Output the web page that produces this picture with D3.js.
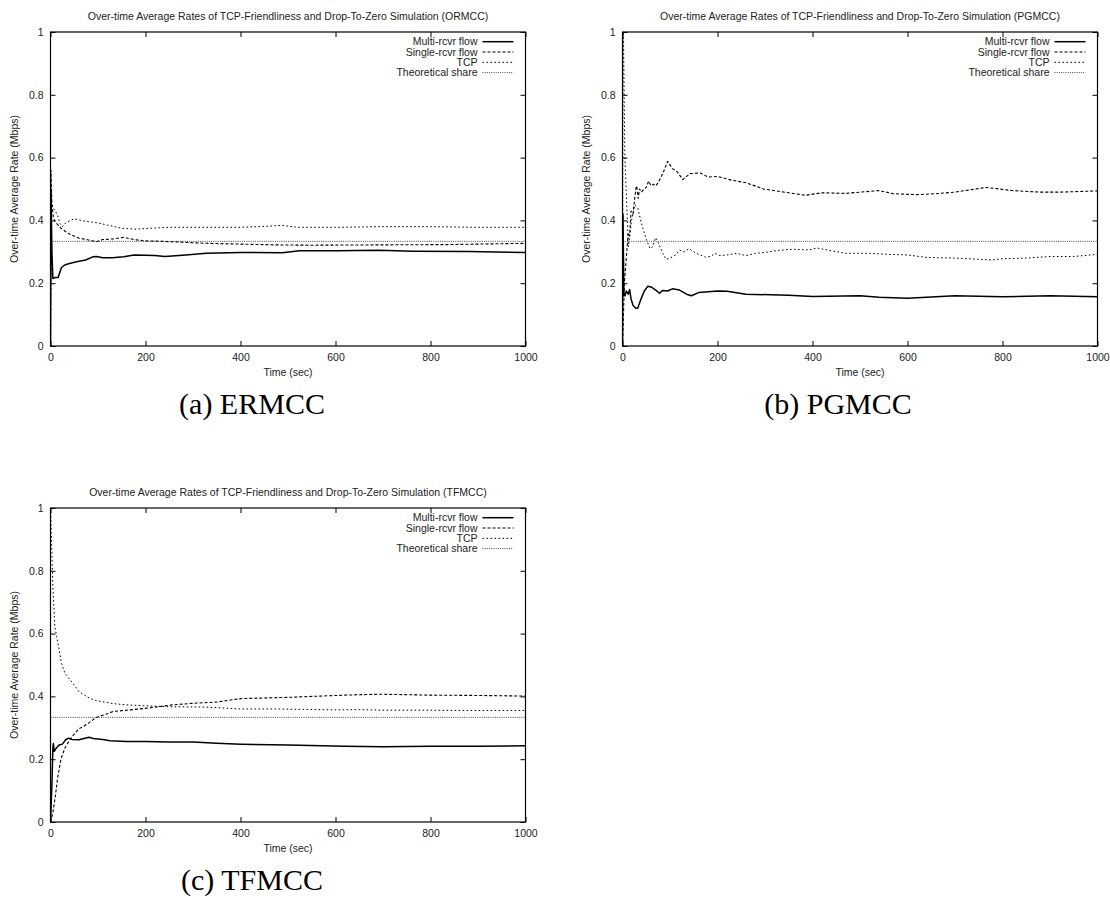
<!DOCTYPE html>
<html>
<head>
<meta charset="utf-8">
<script src="https://cdn.jsdelivr.net/npm/d3@7"></script>
<style>
  html, body { margin: 0; padding: 0; background: #fff; }
  svg { display: block; }
  .lbl { font-family: "Liberation Sans", Arial, sans-serif; font-size: 10.5px; fill: #222; }
  .cap { font-family: "Liberation Serif", "DejaVu Serif", serif; font-size: 30px; fill: #000; }
</style>
</head>
<body>
<svg id="fig" width="1110" height="900"></svg>
<script>
// ---- Axis settings ----
const timeTicks = [0, 200, 400, 600, 800, 1000];
const rateTicks = [0, 0.2, 0.4, 0.6, 0.8, 1];
const legendLabels = ["Multi-rcvr flow", "Single-rcvr flow", "TCP", "Theoretical share"];
const theoreticalShare = 1 / 3;

// ---- ERMCC (plot titled ORMCC) : [time (s), rate (Mbps)] ----
const ermccMulti = [[0,0],[1,0.5],[3,0.3],[5,0.215],[10,0.218],[16,0.218],[23,0.25],[30,0.258],[38,0.262],[55,0.268],[74,0.274],[89,0.284],[97,0.285],[110,0.281],[130,0.281],[154,0.284],[176,0.29],[200,0.289],[219,0.288],[241,0.285],[285,0.29],[328,0.295],[400,0.298],[488,0.297],[524,0.303],[604,0.303],[690,0.305],[764,0.302],[880,0.301],[1000,0.298]];
const ermccSingle = [[0,0],[1,0.56],[3,0.45],[6,0.41],[10,0.395],[23,0.374],[38,0.358],[60,0.343],[74,0.34],[96,0.332],[110,0.339],[132,0.341],[154,0.346],[176,0.339],[198,0.335],[241,0.333],[328,0.327],[473,0.322],[546,0.321],[690,0.322],[836,0.323],[1000,0.327]];
const ermccTcp = [[0,0],[0.5,0.19],[2,0.46],[5,0.44],[10,0.43],[15,0.415],[20,0.39],[25,0.38],[32,0.392],[42,0.4],[50,0.405],[70,0.398],[100,0.392],[120,0.385],[150,0.375],[180,0.372],[210,0.375],[250,0.378],[300,0.378],[400,0.378],[450,0.381],[488,0.384],[520,0.378],[600,0.378],[700,0.38],[800,0.38],[900,0.378],[1000,0.378]];

// ---- PGMCC ----
const pgmccMulti = [[0,0],[1,0.42],[3,0.16],[5,0.16],[8,0.175],[12,0.165],[15,0.18],[18,0.15],[22,0.13],[28,0.12],[32,0.12],[38,0.146],[46,0.175],[53,0.19],[60,0.188],[70,0.178],[78,0.168],[84,0.177],[95,0.175],[105,0.182],[120,0.178],[135,0.165],[145,0.16],[160,0.17],[201,0.175],[220,0.174],[260,0.165],[312,0.163],[350,0.162],[400,0.158],[500,0.16],[540,0.155],[600,0.152],[700,0.16],[800,0.157],[900,0.16],[1000,0.157]];
const pgmccSingle = [[0,0],[4,0.2],[8,0.28],[12,0.36],[15,0.35],[18,0.43],[22,0.42],[25,0.46],[28,0.5],[30,0.51],[33,0.47],[36,0.5],[40,0.49],[45,0.5],[50,0.505],[55,0.525],[60,0.51],[65,0.515],[70,0.51],[75,0.52],[85,0.55],[95,0.588],[105,0.565],[115,0.555],[127,0.53],[142,0.549],[164,0.551],[180,0.538],[200,0.54],[230,0.528],[260,0.52],[297,0.5],[350,0.488],[385,0.48],[420,0.488],[470,0.486],[500,0.49],[540,0.495],[570,0.485],[620,0.482],[660,0.485],[700,0.49],[766,0.505],[820,0.495],[880,0.49],[920,0.49],[1000,0.494]];
const pgmccTcp = [[0,0],[1,1],[2,1],[5,0.6],[12.5,0.316],[19,0.4],[26,0.449],[32,0.44],[40,0.39],[50,0.34],[58,0.31],[63,0.315],[70,0.345],[75,0.33],[85,0.295],[92,0.276],[100,0.28],[112,0.29],[120,0.305],[130,0.3],[140,0.31],[150,0.3],[160,0.292],[175,0.283],[185,0.285],[195,0.295],[205,0.288],[220,0.29],[240,0.295],[260,0.288],[280,0.295],[300,0.298],[330,0.305],[360,0.308],[393,0.306],[410,0.312],[440,0.303],[470,0.295],[520,0.295],[560,0.292],[600,0.29],[640,0.282],[700,0.28],[777,0.274],[800,0.278],[850,0.28],[900,0.285],[950,0.285],[1000,0.292]];

// ---- TFMCC ----
const tfmccMulti = [[0,0],[3,0.12],[5,0.236],[6,0.25],[8,0.225],[12,0.235],[18,0.245],[25,0.248],[32,0.262],[38,0.267],[45,0.263],[60,0.262],[81,0.27],[90,0.266],[110,0.263],[125,0.259],[160,0.256],[200,0.256],[250,0.255],[300,0.255],[350,0.251],[401,0.248],[500,0.245],[619,0.241],[700,0.24],[800,0.241],[900,0.241],[1000,0.243]];
const tfmccSingle = [[0,0],[5,0.03],[10,0.08],[15,0.14],[22,0.2],[30,0.235],[40,0.26],[50,0.28],[60,0.297],[70,0.305],[80,0.315],[96,0.333],[120,0.345],[132,0.352],[160,0.356],[200,0.362],[256,0.373],[300,0.378],[350,0.382],[401,0.393],[450,0.395],[500,0.397],[619,0.404],[691,0.407],[800,0.404],[900,0.403],[1000,0.401]];
const tfmccTcp = [[0,1],[2,0.9],[5,0.75],[9,0.623],[13,0.59],[18,0.55],[23,0.506],[30,0.475],[38,0.459],[48,0.44],[60,0.415],[81,0.395],[95,0.387],[110,0.383],[132,0.377],[160,0.373],[200,0.37],[250,0.367],[328,0.366],[400,0.36],[473,0.36],[600,0.357],[650,0.358],[700,0.356],[800,0.356],[900,0.355],[1000,0.355]];

// ---- Panel layout ----
const plotW = 475, plotH = 314;
const panels = [
  { name: "ORMCC", caption: "(a) ERMCC", left: 50.5, top: 32, capX: 252, capY: 414,
    series: [ermccMulti, ermccSingle, ermccTcp] },
  { name: "PGMCC", caption: "(b) PGMCC", left: 622.5, top: 32, capX: 838, capY: 414,
    series: [pgmccMulti, pgmccSingle, pgmccTcp] },
  { name: "TFMCC", caption: "(c) TFMCC", left: 50.5, top: 508, capX: 252, capY: 890,
    series: [tfmccMulti, tfmccSingle, tfmccTcp] }
];

// Line styles: solid, dashed, dotted, fine dotted
const styles = [
  { width: 1.5, dash: null, color: "#000" },
  { width: 1.1, dash: "3,2", color: "#000" },
  { width: 1.0, dash: "1.6,2.4", color: "#000" },
  { width: 1.0, dash: "1,1.2", color: "#444" }
];

const svg = d3.select("#fig");

panels.forEach(p => {
  const x = d3.scaleLinear().domain([0, 1000]).range([p.left, p.left + plotW]);
  const y = d3.scaleLinear().domain([0, 1]).range([p.top + plotH, p.top]);
  const g = svg.append("g");

  // Title
  g.append("text").attr("class", "lbl")
    .attr("x", p.left + plotW / 2).attr("y", p.top - 12.5)
    .attr("text-anchor", "middle")
    .text(`Over-time Average Rates of TCP-Friendliness and Drop-To-Zero Simulation (${p.name})`);

  // Axes with inward ticks, mirrored on top and right
  const axB = d3.axisBottom(x).tickValues(timeTicks).tickSizeInner(-5).tickSizeOuter(0).tickPadding(8).tickFormat(d3.format("d"));
  const axT = d3.axisTop(x).tickValues(timeTicks).tickSizeInner(-5).tickSizeOuter(0).tickFormat("");
  const axL = d3.axisLeft(y).tickValues(rateTicks).tickSizeInner(-5).tickSizeOuter(0).tickPadding(7).tickFormat(d => d === 0 || d === 1 ? String(d) : d3.format(".1f")(d));
  const axR = d3.axisRight(y).tickValues(rateTicks).tickSizeInner(-5).tickSizeOuter(0).tickFormat("");

  const styleAxis = sel => {
    sel.select(".domain").remove();
    sel.selectAll(".tick line").attr("stroke", "#000").attr("stroke-width", 1);
    sel.selectAll(".tick text").attr("class", "lbl").attr("fill", "#222")
      .style("font-family", '"Liberation Sans", Arial, sans-serif').style("font-size", "10.5px");
  };
  g.append("g").attr("transform", `translate(0,${p.top + plotH})`).call(axB).call(styleAxis);
  g.append("g").attr("transform", `translate(0,${p.top})`).call(axT).call(styleAxis);
  g.append("g").attr("transform", `translate(${p.left},0)`).call(axL).call(styleAxis);
  g.append("g").attr("transform", `translate(${p.left + plotW},0)`).call(axR).call(styleAxis);

  // Axis labels
  g.append("text").attr("class", "lbl")
    .attr("x", p.left + plotW / 2).attr("y", p.top + plotH + 30)
    .attr("text-anchor", "middle").text("Time (sec)");
  g.append("text").attr("class", "lbl")
    .attr("transform", `translate(${p.left - 33},${p.top + plotH / 2}) rotate(-90)`)
    .attr("text-anchor", "middle").text("Over-time Average Rate (Mbps)");

  // Clip region for the curves
  const clipId = "clip-" + p.name;
  svg.append("clipPath").attr("id", clipId).append("rect")
    .attr("x", p.left).attr("y", p.top - 1).attr("width", plotW).attr("height", plotH + 1);
  const plot = g.append("g").attr("clip-path", `url(#${clipId})`);

  const line = d3.line().x(d => x(d[0])).y(d => y(d[1]));

  // Theoretical share line
  plot.append("path")
    .attr("d", line([[0, theoreticalShare], [1000, theoreticalShare]]))
    .attr("fill", "none").attr("stroke", styles[3].color)
    .attr("stroke-width", styles[3].width).attr("stroke-dasharray", styles[3].dash);

  // Flow series
  [2, 1, 0].forEach(i => {
    const s = styles[i];
    plot.append("path").attr("d", line(p.series[i]))
      .attr("fill", "none").attr("stroke", s.color).attr("stroke-width", s.width)
      .attr("stroke-dasharray", s.dash).attr("stroke-linejoin", "round");
  });

  // Frame
  g.append("rect").attr("x", p.left).attr("y", p.top).attr("width", plotW).attr("height", plotH)
    .attr("fill", "none").attr("stroke", "#000").attr("stroke-width", 1.2);

  // Legend
  const right = p.left + plotW;
  legendLabels.forEach((lab, i) => {
    const ly = p.top + 9.7 + i * 10.3;
    g.append("text").attr("class", "lbl")
      .attr("x", right - 48).attr("y", ly).attr("dy", "0.35em")
      .attr("text-anchor", "end").text(lab);
    const s = styles[i];
    g.append("line").attr("x1", right - 43).attr("x2", right - 12)
      .attr("y1", ly).attr("y2", ly)
      .attr("stroke", s.color).attr("stroke-width", s.width)
      .attr("stroke-dasharray", s.dash);
  });

  // Sub-figure caption
  svg.append("text").attr("class", "cap")
    .attr("x", p.capX).attr("y", p.capY).attr("text-anchor", "middle")
    .text(p.caption);
});
</script>
</body>
</html>
